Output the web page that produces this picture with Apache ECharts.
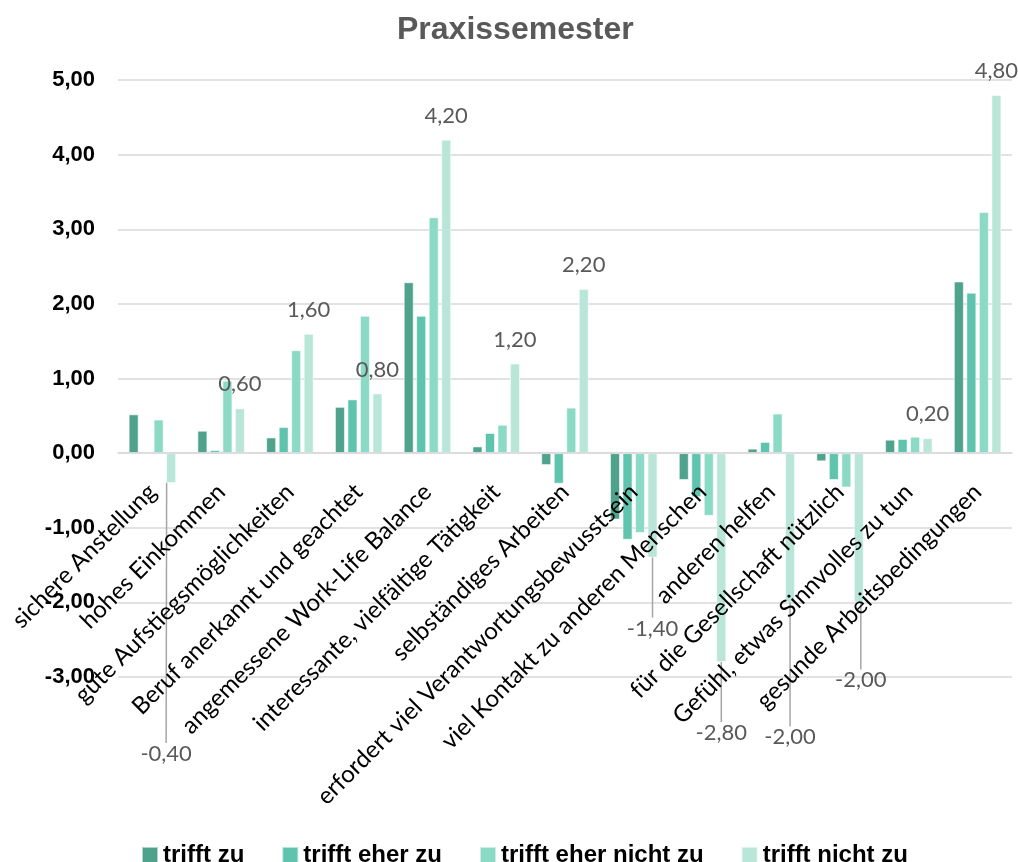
<!DOCTYPE html>
<html>
<head>
<meta charset="utf-8">
<script src="https://cdn.jsdelivr.net/npm/echarts@6/dist/echarts.min.js"></script>
<style>
  html, body { margin: 0; padding: 0; background: #fff; }
  #chart { width: 1018px; height: 862px; }
</style>
</head>
<body>
<div id="chart"></div>
<script>
// Categories (x axis)
const categories = [
  'sichere Anstellung',
  'hohes Einkommen',
  'gute Aufstiegsmöglichkeiten',
  'Beruf anerkannt und geachtet',
  'angemessene Work-Life Balance',
  'interessante, vielfältige Tätigkeit',
  'selbständiges Arbeiten',
  'erfordert viel Verantwortungsbewusstsein',
  'viel Kontakt zu anderen Menschen',
  'anderen helfen',
  'für die Gesellschaft nützlich',
  'Gefühl, etwas Sinnvolles zu tun',
  'gesunde Arbeitsbedingungen'
];

// Series names
const seriesNames = ['trifft zu', 'trifft eher zu', 'trifft eher nicht zu', 'trifft nicht zu'];

// Series values
const trifftZu          = [0.52, 0.30, 0.21, 0.62, 2.29, 0.09, -0.16, -0.89, -0.36, 0.06, -0.11, 0.18, 2.30];
const trifftEherZu      = [0.00, 0.04, 0.35, 0.72, 1.84, 0.27, -0.41, -1.16, -0.59, 0.15, -0.36, 0.19, 2.15];
const trifftEherNichtZu = [0.45, 0.97, 1.38, 1.84, 3.16, 0.38, 0.61, -1.07, -0.84, 0.53, -0.46, 0.22, 3.23];
const trifftNichtZu     = [-0.40, 0.60, 1.60, 0.80, 4.20, 1.20, 2.20, -1.40, -2.80, -2.00, -2.00, 0.20, 4.80];

// Y axis range
const yMin = -3;
const yMax = 5;
const yStep = 1;

// Layout: nudges for the moved value labels of the last series [dx, dy]
const labelNudge = { 0: [-5, 256], 7: [0, 56], 8: [0, 56], 9: [0, 120], 10: [2, 63] };

const colors = ['#4fa38c', '#5ec4ad', '#8bdac5', '#b9e6d8'];
const fmt = v => v.toFixed(2).replace('.', ',');

const allValues = [trifftZu, trifftEherZu, trifftEherNichtZu, trifftNichtZu];

const series = allValues.map((vals, si) => {
  const labelled = si === 3;
  return {
    name: seriesNames[si],
    type: 'bar',
    barWidth: 10,
    barGap: '25%',
    itemStyle: { color: colors[si], borderColor: 'rgba(255,255,255,0.55)', borderWidth: 1 },
    data: vals.map((v, i) => {
      if (!labelled) return v;
      const moved = labelNudge[i] !== undefined;
      return {
        value: v,
        label: { position: v < 0 ? 'bottom' : 'top', distance: v < 0 ? 4 : 13 },
        labelLine: { show: moved }
      };
    }),
    label: {
      show: labelled,
      formatter: p => fmt(p.value),
      fontFamily: 'Lato',
      fontSize: 22,
      color: '#595959'
    },
    labelLine: {
      show: false,
      lineStyle: { color: '#a6a6a6', width: 1.5 }
    },
    labelLayout: labelled ? function (p) {
      const n = labelNudge[p.dataIndex];
      return n ? { dx: n[0], dy: n[1] } : {};
    } : undefined
  };
});

const chart = echarts.init(document.getElementById('chart'), null, { renderer: 'canvas' });
chart.setOption({
  animation: false,
  backgroundColor: '#fff',
  color: colors,
  title: {
    text: 'Praxissemester',
    left: 397,
    top: 14,
    padding: 0,
    textStyle: {
      fontFamily: 'Liberation Sans',
      fontWeight: 'bold',
      fontSize: 32,
      color: '#595959'
    }
  },
  legend: {
    left: 136,
    top: 838,
    itemWidth: 16,
    itemHeight: 16,
    itemGap: 37,
    icon: 'rect',
    textStyle: {
      fontFamily: 'Liberation Sans',
      fontWeight: 'bold',
      fontSize: 24,
      color: '#000'
    },
    data: seriesNames
  },
  grid: {
    left: 118,
    right: 6,
    top: 80,
    bottom: 185,
    outerBoundsMode: 'none'
  },
  xAxis: {
    type: 'category',
    data: categories,
    z: 5,
    axisLine: { onZero: true, lineStyle: { color: '#d9d9d9', width: 1.5 } },
    axisTick: { show: false },
    axisLabel: {
      interval: 0,
      rotate: 45,
      margin: -189,
      fontFamily: 'Lato',
      fontSize: 24,
      color: '#000'
    }
  },
  yAxis: {
    type: 'value',
    min: yMin,
    max: yMax,
    interval: yStep,
    axisLine: { show: false },
    axisTick: { show: false },
    splitLine: { lineStyle: { color: '#d9d9d9', width: 1.5 } },
    axisLabel: {
      formatter: v => fmt(v),
      margin: 23,
      fontFamily: 'Liberation Sans',
      fontWeight: 'bold',
      fontSize: 22,
      color: '#000'
    }
  },
  series: series
});
</script>
</body>
</html>
